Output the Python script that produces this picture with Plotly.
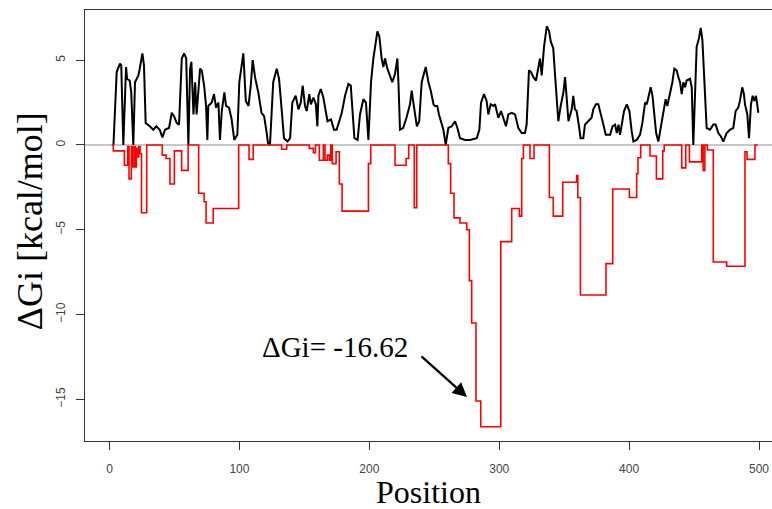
import plotly.graph_objects as go

# black profile: position / deltaG
black_pos = [3, 5.5, 8, 9, 10.6, 12.7, 13.5, 15.5, 16.7, 18.3, 19.6, 22.2, 23, 25.3, 26.5, 27.8, 31, 33.7, 36, 38.6,
             40.7, 42.7, 45.8, 47.9, 49.6, 51.7, 53.5, 54.3, 55.6, 57.4, 59, 60.7, 62, 63, 64.6, 65.9, 67, 69.7, 71, 72.8,
             74.3, 75.3, 76, 78.7, 80.4, 82, 83.8, 85, 86.4, 88.4, 89.7, 92, 94, 96, 98.4, 99.9, 101.8, 103, 104.9, 107,
             108.7, 110.2, 112, 114.5, 117, 119, 121, 122, 123.5, 124.8, 126, 128.7, 130.5, 132.6, 134.3, 137, 139, 140.7, 143.3, 145.4,
             147.2, 148.7, 150.5, 151.8, 153.8, 155, 157, 158.8, 160, 160.8, 162.6, 164.6, 166.5, 167.8, 170.5, 172.8, 174.8, 176.7, 178.8, 181.3,
             183.9, 185.7, 187.2, 188.5, 191, 192.8, 195.4, 197.4, 199.3, 201.3, 203.1, 206.2, 207.7, 209.5, 210.8, 212.1, 213.9, 215.9, 217.7, 219.8,
             221.6, 222.4, 223.6, 226, 228.6, 231.3, 232.6, 233.9, 235, 236.6, 238.4, 240.3, 243.4, 245.5, 247.3, 249.4, 250.5, 252.3, 253.6, 255,
             257, 258.8, 260.8, 263.4, 266, 267.8, 269.8, 273.7, 277.5, 282.7, 284.7, 286, 288.3, 290.3, 291.6, 293.4, 295.5, 296.8, 299.3, 301.4,
             303.2, 305.2, 307, 309.6, 312.2, 314.7, 317.3, 319.8, 321.1, 322.9, 324.5, 326.3, 328.3, 330.1, 331.4, 332.7, 334.5, 336.6, 338.4, 339.7,
             341.6, 343, 344.2, 345.5, 347.3, 349.4, 350.7, 352, 353.3, 355.8, 357, 358.3, 359.6, 361.6, 362.6, 364.7, 366, 368.5, 371.1, 372.4,
             374.4, 376.3, 378.4, 380.2, 382, 385.4, 387.2, 389.2, 390.5, 391.8, 393, 394.3, 396.1, 398.2, 400.2, 402, 403.3, 405.8, 408.4, 410.2,
             412.3, 413.6, 414.9, 416.6, 418, 419.5, 420.8, 422.5, 424.3, 426.3, 428.1, 429.4, 431.4, 433.3, 434.8, 436.6, 437.9, 439.2, 440.5, 441.8,
             443.1, 444.3, 446.9, 448.2, 449.4, 450.7, 452, 453.8, 455.1, 456.4, 457.9, 459.7, 462.3, 464.8, 466.6, 468.7, 470.7, 472.5, 475.1, 477.6,
             480.2, 482, 484, 485.3, 487.1, 488.4, 489.2, 491, 492.3, 493.8, 495.1, 496.4, 497.7, 498.7, 499.5]
black_val = [0, 4.3, 4.8, 4.7, 0, 4.6, 3.9, 3.8, 3.1, 0, 3.7, 4.1, 4.4, 5.4, 4.7, 1.3, 1.1, 0.9, 1.1, 0.9,
             0.45, 0.9, 1.0, 1.9, 1.7, 1.3, 1.2, 2.5, 5.1, 5.4, 5.1, 0, 4.5, 4.9, 1.8, 3.7, 1.8, 4.5, 4.4, 3.5,
             2.3, 0.3, 2.3, 2.5, 3.0, 2.2, 2.5, 0.3, 2.0, 3.1, 2.3, 2.2, 1.5, 0.3, 0.6, 3.7, 4.9, 5.4, 2.6, 2.3,
             3.5, 5.0, 4.0, 3.1, 1.9, 1.7, 0.7, 0.1, 0, 1.8, 3.7, 4.5, 3.9, 2.0, 0.4, 0.2, 0.4, 2.5, 2.9, 2.1,
             2.5, 3.5, 2.3, 2.0, 3.0, 2.4, 2.8, 2.4, 1.1, 2.9, 3.3, 2.8, 1.8, 1.4, 1.5, 0.9, 0.9, 1.4, 1.9, 2.9,
             3.6, 3.5, 1.8, 0.4, 0.3, 1.8, 2.7, 2.5, 0.3, 3.7, 5.1, 6.7, 6.4, 5.1, 4.6, 5.1, 4.5, 4.0, 3.7, 4.2,
             5.1, 3.7, 0.9, 1.0, 1.6, 2.4, 3.2, 2.5, 1.8, 1.1, 1.4, 3.7, 4.6, 3.7, 3.2, 2.4, 2.3, 2.3, 1.8, 1.4,
             0.9, 0, 1.0, 1.1, 1.4, 1.0, 0.4, 0.3, 0.3, 0.4, 0.9, 2.5, 3.0, 2.6, 1.8, 2.4, 2.3, 2.4, 1.6, 2.0,
             1.6, 1.1, 1.8, 1.9, 1.8, 1.0, 0.7, 0.7, 1.2, 4.4, 4.3, 4.0, 3.8, 4.7, 5.1, 4.1, 5.8, 7.0, 6.7, 6.1,
             5.7, 4.1, 2.6, 1.4, 2.3, 3.1, 4.0, 2.9, 1.4, 2.1, 2.9, 2.1, 2.0, 1.0, 0.4, 0.4, 1.2, 1.4, 1.6, 2.1,
             2.4, 2.4, 1.8, 1.2, 0.6, 0.6, 1.1, 1.2, 0.7, 1.2, 0.6, 1.3, 2.0, 2.4, 2.0, 0.8, 0.2, 0.3, 0.6, 1.3,
             2.5, 2.4, 2.9, 3.4, 2.9, 1.8, 0.7, 0.2, 1.0, 2.0, 2.7, 2.3, 3.0, 3.7, 4.5, 4.4, 4.0, 3.7, 3.0, 3.7,
             3.4, 3.8, 3.9, 3.4, 0, 3.2, 5.8, 6.3, 6.9, 6.2, 3.4, 1.0, 0.9, 1.2, 1.2, 0.7, 0.5, 0.2, 0.7, 0.9,
             1.0, 2.0, 2.2, 2.6, 3.4, 3.0, 2.4, 1.8, 0.4, 2.4, 2.9, 2.6, 2.9, 2.4, 1.9]

# red step profile: each value holds from its position to the next one
red_pos = [1.7, 2.9, 11.4, 14.0, 15.0, 16.8, 17.5, 18.8, 19.8, 20.7, 21.4, 22.4, 23.5, 24.6, 28.6,
           40.6, 43.5, 46.5, 49.9, 55.5, 60.5, 68.6, 72.8, 74.3, 79.8, 99.4, 107.4, 110.6, 132.5, 136.4,
           153.8, 156.9, 158.5, 161.5, 164.6, 165.9, 167.7, 169.2, 170.3, 171.5, 174.4, 176.9, 179.0, 199.3, 201.1,
           219.8, 228.3, 230.3, 234.6, 236.5, 260.8, 262.6, 265.2, 269.8, 275.0, 277.0, 278.8, 282.1, 285.8, 301.2,
           309.6, 315.5, 317.3, 318.6, 323.7, 326.8, 338.6, 341.6, 348.9, 359.6, 360.5, 362.5, 382.2, 387.4, 400.2,
           405.8, 406.8, 408.9, 416.1, 421.0, 425.9, 427.0, 440.5, 443.6, 446.4, 455.9, 457.0, 458.3, 460.2, 464.8,
           475.1, 489.2, 490.8, 496.9, 499.0]
red_val = [0, -0.35, -1.2, -0.1, -2.0, -0.1, -1.3, -0.1, -1.3, -0.2, -0.7, -0.1, -0.5, -4.0, 0,
           -0.6, -0.8, -2.3, -0.35, -1.5, 0, -2.85, -3.35, -4.6, -3.75, 0, -0.85, 0, -0.25, 0,
           -0.2, -0.45, 0, -0.9, 0, -0.9, -0.6, -0.9, 0, -1.1, -0.4, -2.3, -3.9, -1.1, 0,
           -1.2, -0.8, 0, -3.7, 0, -1.1, -2.85, -4.3, -4.6, -5.0, -8.0, -10.5, -15.1, -16.62, -5.7,
           -3.75, -4.2, -0.8, 0, -0.8, 0, -3.1, -4.2, -2.2, -1.8, -3.1, -8.85, -7.0, -2.6, -3.1,
           -1.7, -0.75, 0, -0.65, -2.0, -0.35, 0, -1.35, 0, -1.0, 0, -1.5, 0, -0.3, -6.9,
           -7.15, -0.4, -0.85, 0, 0]

x_ticks = [0, 100, 200, 300, 400, 500]
y_ticks = [-15, -10, -5, 0, 5]

serif = 'Liberation Serif, Times New Roman, serif'
sans = 'Liberation Sans, Arial, sans-serif'

fig = go.Figure()

fig.add_trace(go.Scatter(x=black_pos, y=black_val, mode='lines',
                         line=dict(color='black', width=2)))
fig.add_trace(go.Scatter(x=red_pos, y=red_val, mode='lines',
                         line=dict(color='#ff0000', width=1.6, shape='hv')))

# arrow pointing at the minimum
fig.add_annotation(x=275.2, y=-14.87, ax=239, ay=-12.39, axref='x', ayref='y',
                   text='', showarrow=True, arrowhead=2, arrowsize=1.3,
                   arrowwidth=2.2, arrowcolor='black')
fig.add_annotation(x=173.6, y=-11.9, text='ΔGi= -16.62', showarrow=False,
                   font=dict(family=serif, size=29, color='black'))

# axis titles
fig.add_annotation(xref='paper', yref='paper', x=-0.08, y=0.51, text='ΔGi [kcal/mol]',
                   textangle=-90, showarrow=False, xanchor='center', yanchor='middle',
                   font=dict(family=serif, size=36, color='black'))
fig.add_annotation(xref='paper', yref='paper', x=0.5007, y=-0.118, text='Position',
                   showarrow=False, xanchor='center', yanchor='middle',
                   font=dict(family=serif, size=32, color='black'))

fig.update_layout(
    width=772,
    height=509,
    margin=dict(l=85, r=0, t=10, b=68),
    plot_bgcolor='white',
    paper_bgcolor='white',
    showlegend=False,
    xaxis=dict(range=[-18.9, 510], tickvals=x_ticks, showgrid=False, zeroline=False,
               showline=True, linecolor='#333333', linewidth=1.3, mirror=True,
               ticks='outside', ticklen=8, tickcolor='#333333', ticklabelstandoff=8,
               tickfont=dict(family=sans, size=12, color='#444444')),
    yaxis=dict(range=[-17.46, 7.96], tickvals=y_ticks, showgrid=False,
               zeroline=True, zerolinecolor='#c8c8c8', zerolinewidth=1.5,
               showline=True, linecolor='#333333', linewidth=1.3,
               ticks='outside', ticklen=8, tickcolor='#333333', tickangle=-90, ticklabelstandoff=6,
               tickfont=dict(family=sans, size=12, color='#444444')),
)

# drop the default page margin so the figure fills the window exactly
fig.write_html("out.html", config={'displayModeBar': False},
               post_script="document.body.style.margin='0';document.body.style.overflow='hidden';")
